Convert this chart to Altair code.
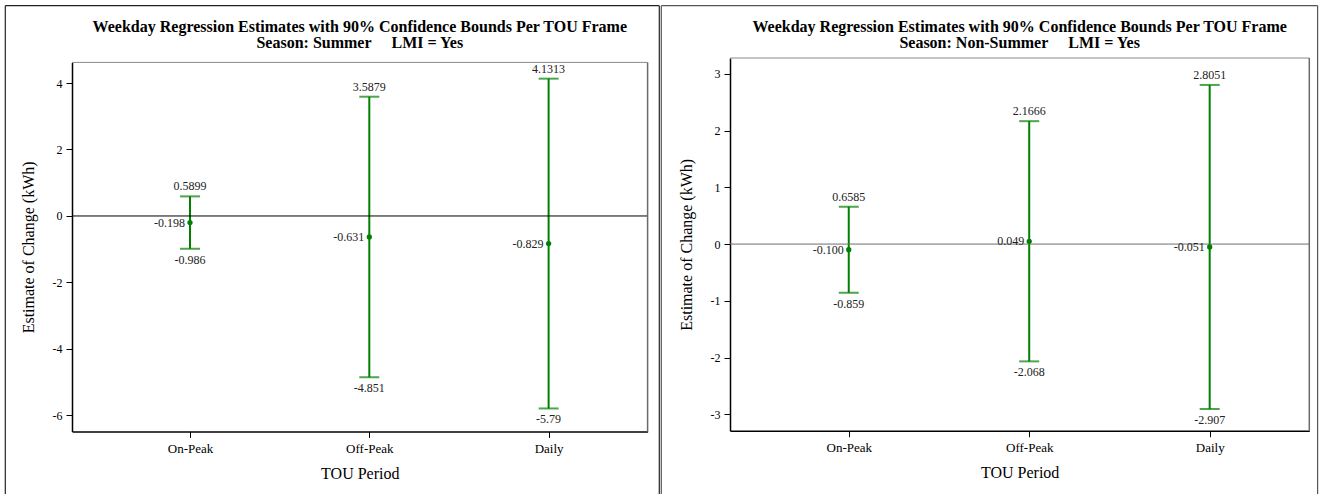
import altair as alt
import pandas as pd

FONT = "Liberation Serif"
GREEN = "#008000"

periods = ["On-Peak", "Off-Peak", "Daily"]
period_pos = [1, 2, 3]

title_line1 = "Weekday Regression Estimates with 90% Confidence Bounds Per TOU Frame"
summer_title2 = "Season: Summer\u00a0\u00a0\u00a0\u00a0\u00a0LMI = Yes"
nonsummer_title2 = "Season: Non-Summer\u00a0\u00a0\u00a0\u00a0\u00a0LMI = Yes"

summer_est = [-0.198, -0.631, -0.829]
summer_lo = [-0.986, -4.851, -5.79]
summer_hi = [0.5899, 3.5879, 4.1313]
summer_est_lbl = ["-0.198", "-0.631", "-0.829"]
summer_lo_lbl = ["-0.986", "-4.851", "-5.79"]
summer_hi_lbl = ["0.5899", "3.5879", "4.1313"]
summer_yticks = [-6, -4, -2, 0, 2, 4]
summer_ydomain = [-6.48, 4.62]

nons_est = [-0.100, 0.049, -0.051]
nons_lo = [-0.859, -2.068, -2.907]
nons_hi = [0.6585, 2.1666, 2.8051]
nons_est_lbl = ["-0.100", "0.049", "-0.051"]
nons_lo_lbl = ["-0.859", "-2.068", "-2.907"]
nons_hi_lbl = ["0.6585", "2.1666", "2.8051"]
nons_yticks = [-3, -2, -1, 0, 1, 2, 3]
nons_ydomain = [-3.29, 3.28]

XDOM = [0.342, 3.552]


def panel(title2, est, lo, hi, el, ll, hl, ydom, yticks, W, VH, ytop,
          zero_color, fl, fr, frame_color):
    df = pd.DataFrame({"pos": period_pos, "period": periods, "est": est,
                       "lo": lo, "hi": hi, "el": el, "ll": ll, "hl": hl})
    label_expr = "[" + ",".join("'%s'" % p for p in periods) + "][datum.value - 1]"
    x = alt.X("pos:Q",
              scale=alt.Scale(domain=XDOM, nice=False, zero=False),
              axis=alt.Axis(values=period_pos, labelExpr=label_expr, title="TOU Period",
                            grid=False, tickSize=6, labelPadding=5, titlePadding=10,
                            labelFontSize=13, titleFontSize=16,
                            domainColor="black", domainWidth=1.5, tickColor="black",
                            labelColor="black", titleColor="black",
                            titleFontWeight="normal", labelFont=FONT, titleFont=FONT))
    yscale = alt.Scale(domain=ydom, nice=False, zero=False, range=[VH, ytop])
    y_axis = alt.Axis(values=yticks, labelExpr="datum.value + ''",
                      title="Estimate of Change (kWh)", grid=False, tickSize=6,
                      labelPadding=4, titlePadding=16, labelFontSize=12, titleFontSize=16,
                      domainColor="black", domainWidth=1.5, tickColor="black",
                      labelColor="black", titleColor="black", titleFontWeight="normal",
                      labelFont=FONT, titleFont=FONT)
    base = alt.Chart(df)

    bars = base.mark_rule(color=GREEN, strokeWidth=2).encode(
        x=x, y=alt.Y("lo:Q", scale=yscale, axis=y_axis), y2="hi:Q")
    caps_lo = base.mark_tick(color=GREEN, orient="horizontal", size=20, thickness=2).encode(
        x="pos:Q", y="lo:Q")
    caps_hi = base.mark_tick(color=GREEN, orient="horizontal", size=20, thickness=2).encode(
        x="pos:Q", y="hi:Q")
    pts = base.mark_circle(color=GREEN, size=28, opacity=1).encode(x="pos:Q", y="est:Q")
    txt_kw = dict(font=FONT, fontSize=12, color="#222222")
    t_hi = base.mark_text(baseline="middle", dy=-10, **txt_kw).encode(
        x="pos:Q", y="hi:Q", text="hl:N")
    t_lo = base.mark_text(baseline="middle", dy=11, **txt_kw).encode(
        x="pos:Q", y="lo:Q", text="ll:N")
    t_est = base.mark_text(baseline="middle", align="right", dx=-5, **txt_kw).encode(
        x="pos:Q", y="est:Q", text="el:N")

    zero = alt.Chart(pd.DataFrame({"z": [0]})).mark_rule(color=zero_color, strokeWidth=1).encode(
        y=alt.Y("z:Q"), x=alt.value(0), x2=alt.value(W))

    one = pd.DataFrame({"a": [0]})
    plot_top = alt.Chart(one).mark_rule(color="#8a8a8a", strokeWidth=1).encode(
        x=alt.value(0), x2=alt.value(W), y=alt.value(ytop))
    plot_right = alt.Chart(one).mark_rule(color="#6a6a6a", strokeWidth=1.5).encode(
        x=alt.value(W), y=alt.value(ytop), y2=alt.value(VH))

    ftop = -52.3
    fbot = 436.0
    frame_l = alt.Chart(one).mark_rule(color=frame_color, strokeWidth=1.2).encode(
        x=alt.value(fl), y=alt.value(ftop), y2=alt.value(fbot))
    frame_t = alt.Chart(one).mark_rule(color=frame_color, strokeWidth=1.2).encode(
        x=alt.value(fl), x2=alt.value(fr), y=alt.value(ftop))
    frame_r = alt.Chart(one).mark_rule(color=frame_color, strokeWidth=1.2).encode(
        x=alt.value(fr), y=alt.value(ftop), y2=alt.value(fbot))

    tdf1 = pd.DataFrame({"t": [title_line1]})
    tdf2 = pd.DataFrame({"t": [title2]})
    tkw = dict(font=FONT, fontSize=16, fontWeight="bold", align="center",
               baseline="middle", color="black")
    title1 = alt.Chart(tdf1).mark_text(**tkw).encode(
        x=alt.value(W / 2), y=alt.value(-31.5), text="t:N")
    title2m = alt.Chart(tdf2).mark_text(**tkw).encode(
        x=alt.value(W / 2), y=alt.value(-15), text="t:N")

    return alt.layer(bars, zero, caps_lo, caps_hi, pts, t_hi, t_lo, t_est,
                     plot_top, plot_right, frame_l, frame_t, frame_r,
                     title1, title2m).properties(width=W, height=VH)


left = panel(summer_title2, summer_est, summer_lo, summer_hi, summer_est_lbl,
             summer_lo_lbl, summer_hi_lbl, summer_ydomain, summer_yticks,
             W=575.6, VH=373.4, ytop=4.4, zero_color="black",
             fl=-66.7, fr=587.3, frame_color="#222222")
right = panel(nonsummer_title2, nons_est, nons_lo, nons_hi, nons_est_lbl,
              nons_lo_lbl, nons_hi_lbl, nons_ydomain, nons_yticks,
              W=579.3, VH=372.7, ytop=0, zero_color="#6f6f6f",
              fl=-68.7, fr=587.6, frame_color="#555555")

chart = alt.hconcat(left, right, spacing=0).properties(
    padding={"left": 4, "top": 5, "right": 0, "bottom": 0},
    background="white",
).configure_view(stroke=None)

chart.save("out.html", embed_options={"renderer": "svg", "actions": False})
